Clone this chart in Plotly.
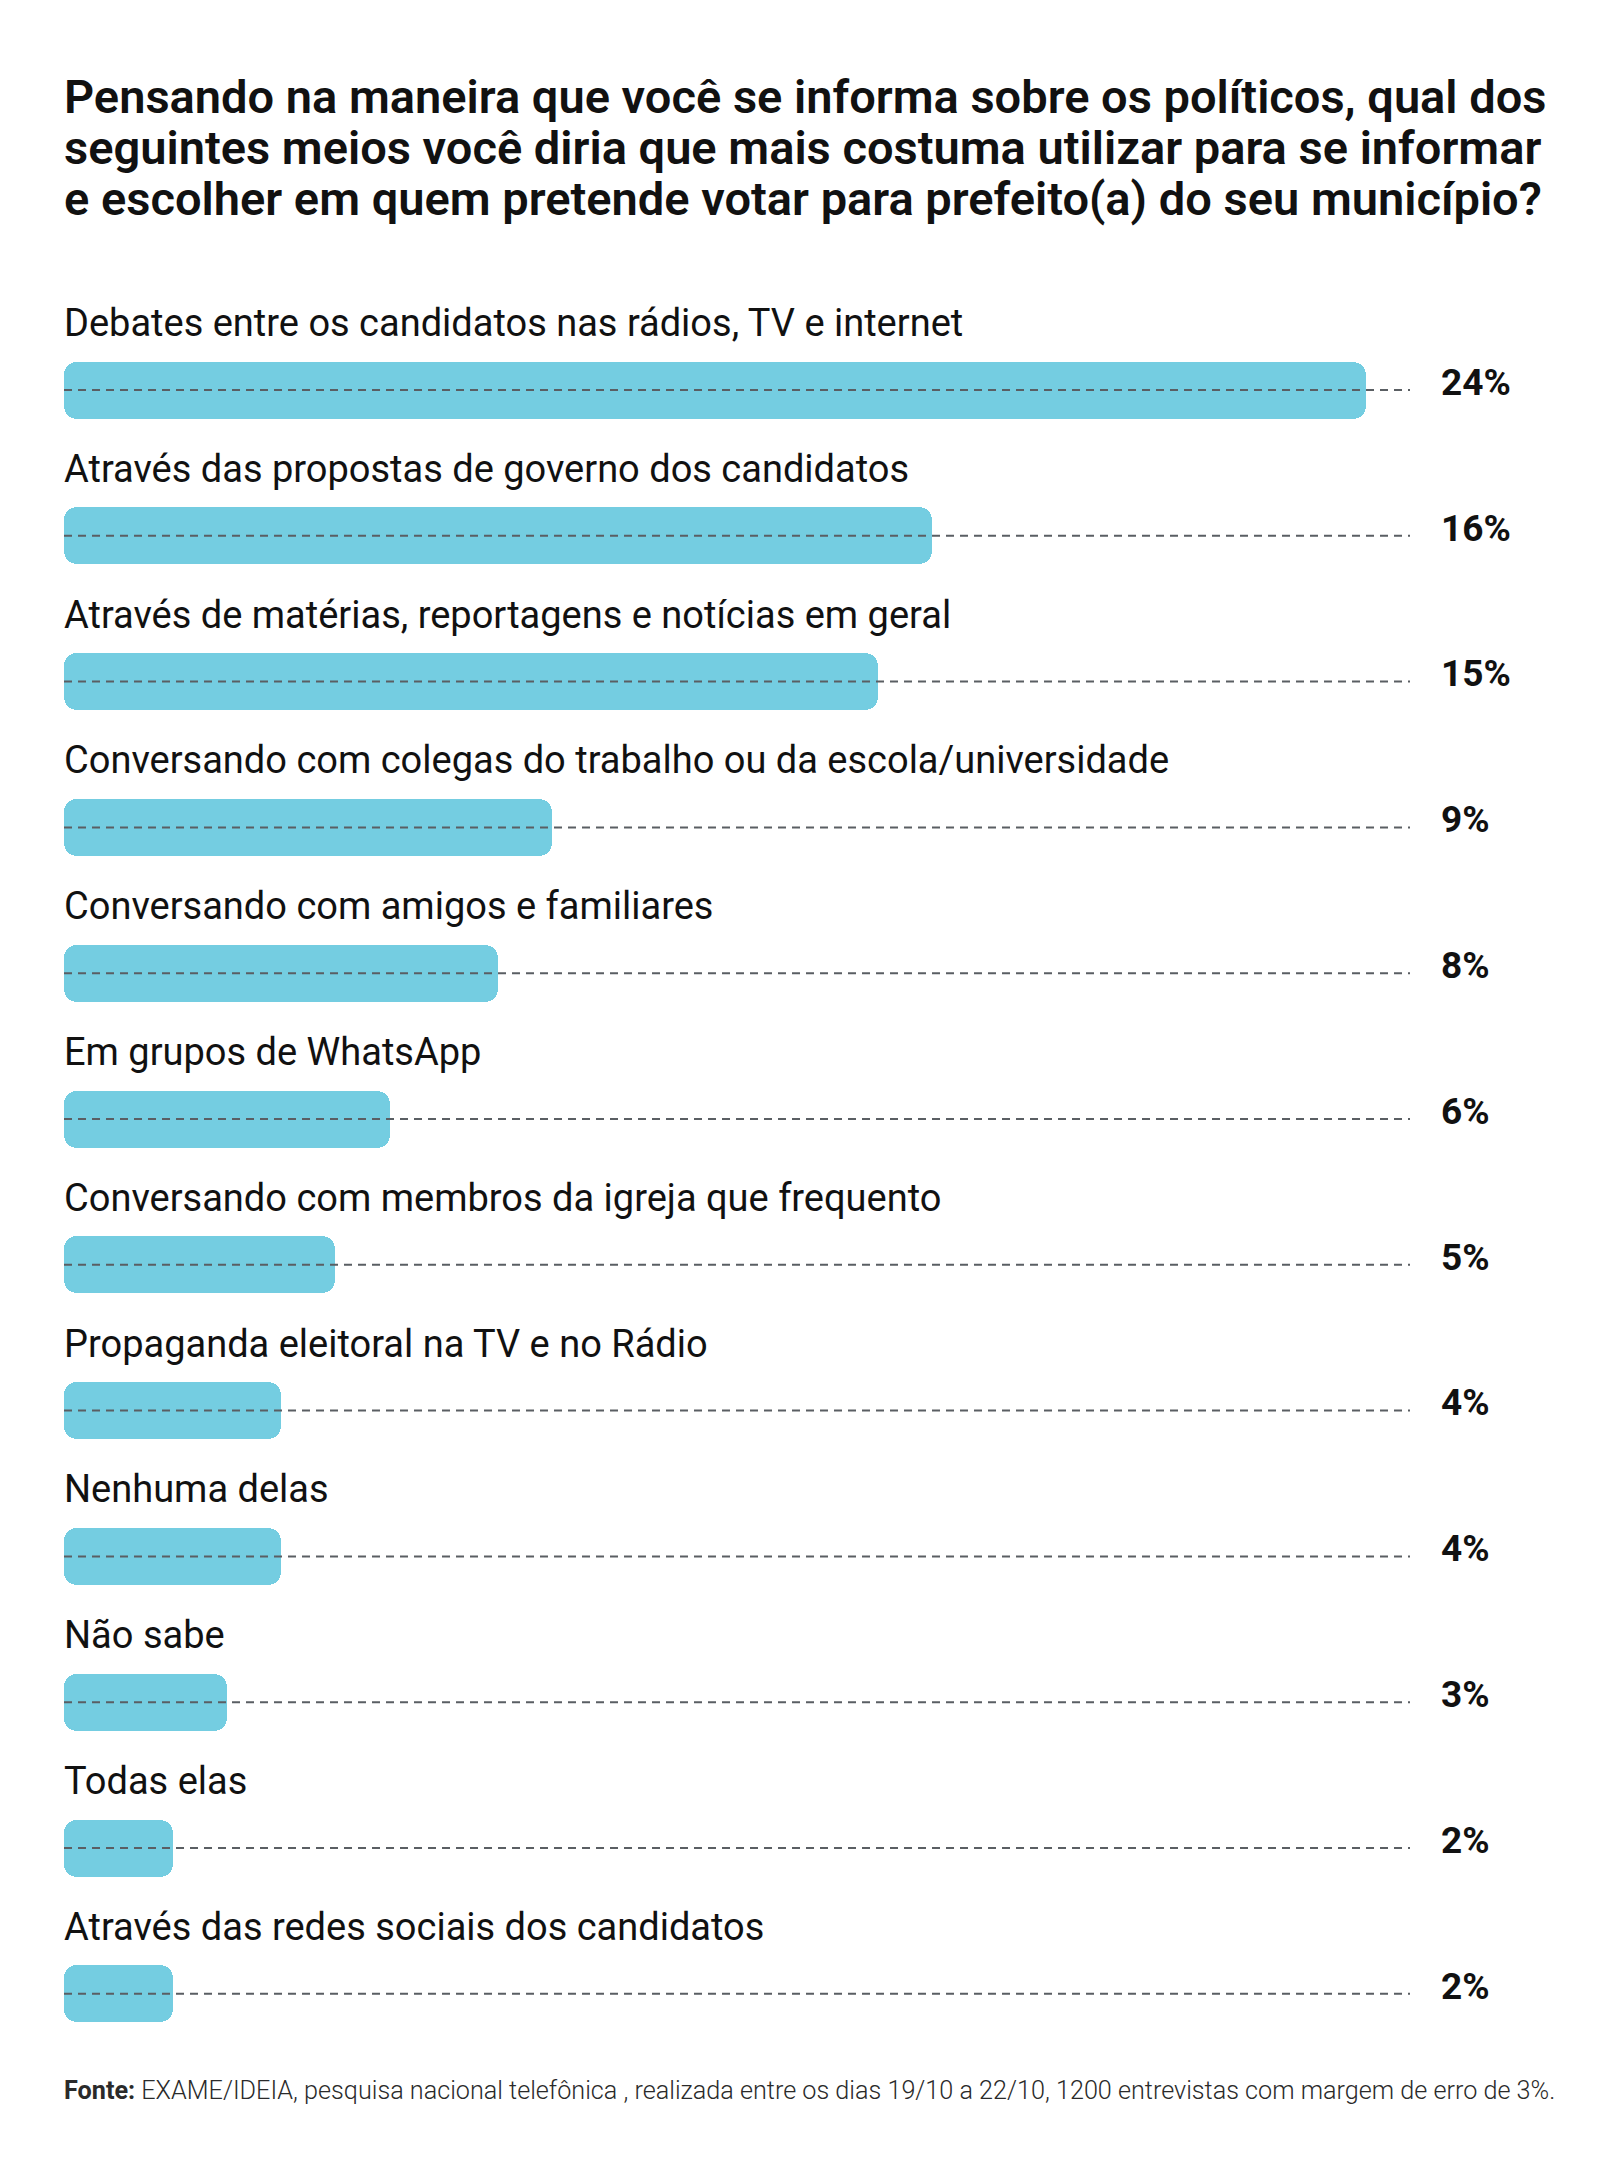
import plotly.graph_objects as go

# survey answers, top to bottom
categories = [
    "Debates entre os candidatos nas rádios, TV e internet",
    "Através das propostas de governo dos candidatos",
    "Através de matérias, reportagens e notícias em geral",
    "Conversando com colegas do trabalho ou da escola/universidade",
    "Conversando com amigos e familiares",
    "Em grupos de WhatsApp",
    "Conversando com membros da igreja que frequento",
    "Propaganda eleitoral na TV e no Rádio",
    "Nenhuma delas",
    "Não sabe",
    "Todas elas",
    "Através das redes sociais dos candidatos",
]
values = [24, 16, 15, 9, 8, 6, 5, 4, 4, 3, 2, 2]
value_labels = [f"{v}%" for v in values]

title_lines = [
    "Pensando na maneira que você se informa sobre os políticos, qual dos",
    "seguintes meios você diria que mais costuma utilizar para se informar",
    "e escolher em quem pretende votar para prefeito(a) do seu município?",
]
source = ("<b>Fonte:</b> EXAME/IDEIA, pesquisa nacional telefônica , realizada entre os dias "
          "19/10 a 22/10, 1200 entrevistas com margem de erro de 3%.")

W, H = 1616, 2160
OFF = 8              # page body margin
PX_PER_PCT = 54.25
ROW_PX = 145.8
FIRST_ROW_PX = 390 - OFF
LEFT = 64 - OFF
rows = list(range(len(categories)))


def page_y(py):
    return 1 - (py - OFF) / H


x_max = (W - LEFT) / PX_PER_PCT
y_top = -FIRST_ROW_PX / ROW_PX
y_bot = (H - FIRST_ROW_PX) / ROW_PX
line_end = (1410 - OFF - LEFT) / PX_PER_PCT
label_x = (1441 - OFF - LEFT) / PX_PER_PCT
bar_w = 57 / ROW_PX

fig = go.Figure()

# two overlapping pieces per bar so both ends come out rounded
right_base = [v * 0.25 for v in values]
right_len = [v * 0.75 for v in values]
left_base = [v * 0.75 for v in values]
left_len = [-v * 0.75 for v in values]
for base, length in ((left_base, left_len), (right_base, right_len)):
    fig.add_trace(go.Bar(
        x=length, base=base, y=rows, orientation="h",
        width=bar_w,
        marker=dict(color="#74CDE1", cornerradius=13, line=dict(width=0)),
        hoverinfo="skip",
    ))

# dashed guide line across each row
for r in rows:
    fig.add_trace(go.Scatter(
        x=[0, line_end], y=[r, r], mode="lines",
        line=dict(color="#5a5e63", width=2, dash="8px,6px"),
        hoverinfo="skip",
    ))

fig.add_trace(go.Scatter(
    x=[label_x] * len(rows), y=[r - 0.03 for r in rows],
    mode="text", text=value_labels, textposition="middle right",
    textfont=dict(family="Roboto", size=37, color="#111111", weight="bold"),
    hoverinfo="skip",
))

for r, cat in zip(rows, categories):
    fig.add_annotation(
        x=0, y=r - 0.46, xref="x", yref="y", text=cat, showarrow=False,
        xanchor="left", yanchor="middle", xshift=-2,
        font=dict(family="Roboto", size=38, color="#111111"),
    )

for py, line in zip([96, 148, 199], title_lines):
    fig.add_annotation(
        x=0, y=page_y(py), xref="paper", yref="paper", text=line,
        showarrow=False, xanchor="left", yanchor="middle", align="left",
        xshift=-2,
        font=dict(family="Roboto", size=47, color="#111111", weight=600),
    )

fig.add_annotation(
    x=0, y=page_y(2090), xref="paper", yref="paper", text=source,
    showarrow=False, xanchor="left", yanchor="middle", align="left",
    xshift=-2,
    font=dict(family="Roboto", size=25.2, color="#2a2a2a", weight=300),
)

fig.update_xaxes(range=[0, x_max], visible=False, fixedrange=True)
fig.update_yaxes(range=[y_bot, y_top], visible=False, fixedrange=True)

fig.update_layout(
    width=W, height=H,
    margin=dict(l=LEFT, r=0, t=0, b=0),
    plot_bgcolor="white", paper_bgcolor="white",
    showlegend=False, barmode="overlay", bargap=0,
)

fig.write_html("out.html")
